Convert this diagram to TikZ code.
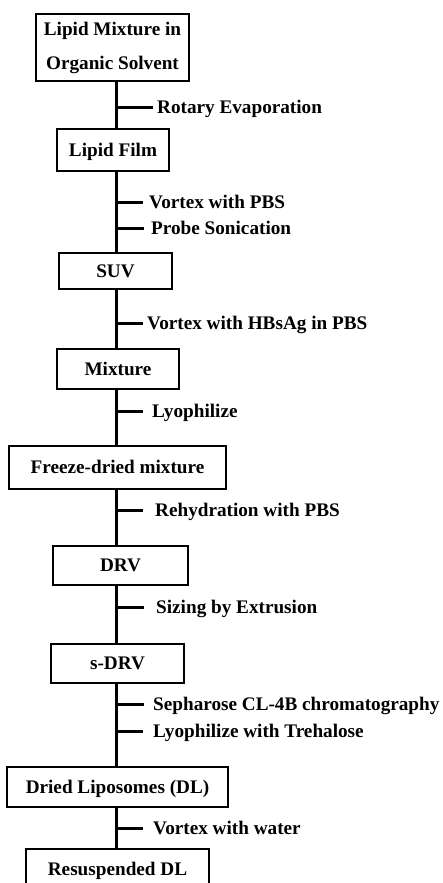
\documentclass[tikz,border=0pt]{standalone}
\usepackage{fontspec}
\setmainfont{Liberation Serif}
\begin{document}
\begin{tikzpicture}[x=1pt,y=-1pt,
  box/.style={draw=black, line width=2pt, fill=white, inner sep=0pt,
    font=\fontsize{19.2}{34}\selectfont\bfseries, text height=12.7pt, text depth=0pt},
  lab/.style={inner sep=0pt, anchor=west, font=\fontsize{19.2}{22}\selectfont\bfseries,
    text height=12.7pt, text depth=0pt},
  spine/.style={line width=3pt},
  tick/.style={line width=3pt}]
\clip (0,0) rectangle (442,883);
\fill[white] (0,0) rectangle (442,883);
\coordinate (sp) at (116.5,0);
% boxes
\node[box, minimum width=153pt, minimum height=66pt, align=center, text height=, text depth=] (b1) at (112.5,47.5) {Lipid Mixture in\\Organic Solvent};
\node[box, minimum width=112pt, minimum height=42pt] (b2) at (113,150) {Lipid Film};
\node[box, minimum width=113pt, minimum height=36pt] (b3) at (115.5,271) {SUV};
\node[box, minimum width=122pt, minimum height=40pt] (b4) at (118,369) {Mixture};
\node[box, minimum width=217pt, minimum height=43pt] (b5) at (117.5,467.5) {Freeze-dried mixture};
\node[box, minimum width=135pt, minimum height=39pt] (b6) at (120.5,565.5) {DRV};
\node[box, minimum width=133pt, minimum height=39pt] (b7) at (117.5,663.5) {s-DRV};
\node[box, minimum width=221pt, minimum height=40pt] (b8) at (117.5,787) {Dried Liposomes (DL)};
\node[box, minimum width=183pt, minimum height=40pt] (b9) at (117.5,869) {Resuspended DL};
% spine segments
\foreach \a/\b in {b1/b2,b2/b3,b3/b4,b4/b5,b5/b6,b6/b7,b7/b8,b8/b9}
  \draw[spine] (\a.south -| sp) -- (\b.north -| sp);
% labels
\node[lab] (l1) at (157,107) {Rotary Evaporation};
\node[lab] (l2) at (149,202) {Vortex with PBS};
\node[lab] (l3) at (151,228) {Probe Sonication};
\node[lab] (l4) at (147,323) {Vortex with HBsAg in PBS};
\node[lab] (l5) at (152,411) {Lyophilize};
\node[lab] (l6) at (155,510) {Rehydration with PBS};
\node[lab] (l7) at (156,607) {Sizing by Extrusion};
\node[lab] (l8) at (153,704) {Sepharose CL-4B chromatography};
\node[lab] (l9) at (153,731) {Lyophilize with Trehalose};
\node[lab] (l10) at (153,828) {Vortex with water};
% ticks
\draw[tick] (l1.west -| sp) -- ([xshift=-4pt]l1.west);
\foreach \n/\g in {l2/6,l3/7,l4/4,l5/9,l6/12,l7/12,l8/9,l9/10,l10/10}
  \draw[tick] (\n.west -| sp) -- ([xshift=-\g pt]\n.west);
\end{tikzpicture}
\end{document}
